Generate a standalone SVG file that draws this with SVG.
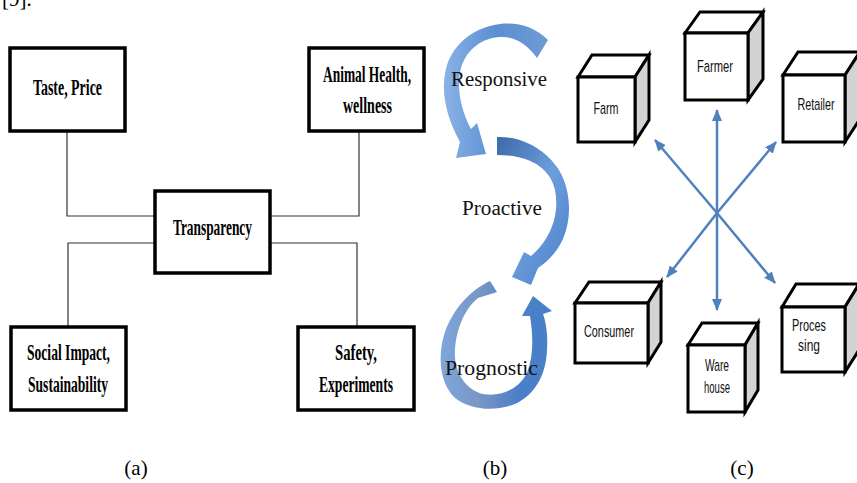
<svg xmlns="http://www.w3.org/2000/svg" width="857" height="483" viewBox="0 0 857 483">
<defs>
<style>
.box{fill:#fff;stroke:#000;stroke-width:3.5}
.conn{fill:none;stroke:#333;stroke-width:1.2}
.bt{font-family:"Liberation Serif",serif;font-weight:bold;font-size:24px;fill:#000}
.cap{font-family:"Liberation Serif",serif;font-size:21px;fill:#000}
.lbl{font-family:"Liberation Serif",serif;font-size:20px;fill:#111}
.cf{fill:#fff;stroke:#000;stroke-width:3;stroke-linejoin:miter}
.cs{fill:#d3d3d3;stroke:#000;stroke-width:3;stroke-linejoin:miter}
.ct{font-family:"Liberation Sans",sans-serif;font-size:17px;fill:#111}
.ar{stroke:#4f81bd;stroke-width:2.5;fill:none}
</style>
<linearGradient id="g1" x1="0" y1="0" x2="1" y2="0">
<stop offset="0" stop-color="#8ab2e6"/><stop offset="0.5" stop-color="#5a8fd2"/><stop offset="1" stop-color="#6f9bd4"/>
</linearGradient>
<linearGradient id="g2" x1="0" y1="0" x2="1" y2="1">
<stop offset="0" stop-color="#3b6aa8"/><stop offset="0.5" stop-color="#6d9ddc"/><stop offset="1" stop-color="#4a80c8"/>
</linearGradient>
<linearGradient id="g3" x1="0" y1="0" x2="1" y2="0">
<stop offset="0" stop-color="#7fa6dc"/><stop offset="0.35" stop-color="#7896c4"/><stop offset="0.7" stop-color="#4a80c8"/><stop offset="1" stop-color="#4a80c8"/>
</linearGradient>
<marker id="ah" markerWidth="12" markerHeight="10" refX="11" refY="5" orient="auto" markerUnits="userSpaceOnUse">
<path d="M0,0 L12,5 L0,10 z" fill="#4f81bd"/>
</marker>
</defs>
<rect width="857" height="483" fill="#fff"/>
<text x="2" y="6" class="cap" font-size="18">[9].</text>

<!-- Panel (a) -->
<g id="connectors-a">
<polyline class="conn" points="67,131 67,216 155,216"/>
<polyline class="conn" points="270,216 359,216 359,131"/>
<polyline class="conn" points="155,243 68,243 68,327"/>
<polyline class="conn" points="270,243 357,243 357,327"/>
</g>
<g id="taste">
<rect class="box" x="10" y="48" width="115" height="83"/>
<text class="bt" x="33" y="95" textLength="69" lengthAdjust="spacingAndGlyphs">Taste, Price</text>
</g>
<g id="animal">
<rect class="box" x="309" y="48" width="115" height="83"/>
<text class="bt" x="323" y="82" textLength="88" lengthAdjust="spacingAndGlyphs">Animal Health,</text>
<text class="bt" x="343" y="113" textLength="49" lengthAdjust="spacingAndGlyphs">wellness</text>
</g>
<g id="transparency">
<rect class="box" x="155" y="191" width="115" height="82"/>
<text class="bt" x="173" y="235" textLength="79" lengthAdjust="spacingAndGlyphs">Transparency</text>
</g>
<g id="social">
<rect class="box" x="11" y="327" width="115" height="83"/>
<text class="bt" x="27" y="360" textLength="83" lengthAdjust="spacingAndGlyphs">Social Impact,</text>
<text class="bt" x="28" y="392" textLength="80" lengthAdjust="spacingAndGlyphs">Sustainability</text>
</g>
<g id="safety">
<rect class="box" x="298" y="327" width="116" height="83"/>
<text class="bt" x="335" y="360" textLength="42" lengthAdjust="spacingAndGlyphs">Safety,</text>
<text class="bt" x="319" y="392" textLength="74" lengthAdjust="spacingAndGlyphs">Experiments</text>
</g>
<text class="cap" x="136" y="475" text-anchor="middle">(a)</text>

<!-- Panel (b) -->
<g id="responsive">
<path fill="url(#g1)" d="M548,40 C535,27 518,22 500,24 C475,27 455,42 447,65 C440,88 445,115 460,142 L456,158 L486,154 L477,123 L471,129 C461,110 456,88 461,68 C467,48 483,38 500,37 C515,36 528,45 537,58 Z"/>
<text class="lbl" x="451" y="86" textLength="96" lengthAdjust="spacingAndGlyphs">Responsive</text>
</g>
<g id="proactive">
<path fill="url(#g2)" d="M497,137 C520,136 545,148 559,170 C572,192 572,222 561,243 C555,254 547,262 538,268 L531,285 L512,277 L524,252 L531,256 C550,240 560,215 555,190 C550,168 530,155 497,155 Z"/>
<text class="lbl" x="462" y="215" textLength="80" lengthAdjust="spacingAndGlyphs">Proactive</text>
</g>
<g id="prognostic">
<path fill="url(#g3)" d="M490,281 C470,290 452,310 444,335 C437,360 441,385 455,398 C470,410 495,412 515,404 C535,395 546,375 547,350 C548,335 546,322 543,314 L552,311 L533,296 L522,316 L530,316 C533,335 534,355 527,373 C518,390 500,397 483,394 C467,390 457,376 455,358 C454,335 463,310 478,298 L497,292 Z"/>
<text class="lbl" x="445" y="375" textLength="93" lengthAdjust="spacingAndGlyphs">Prognostic</text>
</g>
<text class="cap" x="495" y="475" text-anchor="middle">(b)</text>

<!-- Panel (c) -->
<g id="connectors-c">
<line class="ar" x1="717" y1="213" x2="655" y2="140" marker-end="url(#ah)"/>
<line class="ar" x1="717" y1="213" x2="717" y2="110" marker-end="url(#ah)"/>
<line class="ar" x1="717" y1="213" x2="776" y2="142" marker-end="url(#ah)"/>
<line class="ar" x1="717" y1="213" x2="667" y2="277" marker-end="url(#ah)"/>
<line class="ar" x1="717" y1="213" x2="717" y2="310" marker-end="url(#ah)"/>
<line class="ar" x1="717" y1="213" x2="775" y2="283" marker-end="url(#ah)"/>
</g>
<g id="farm">
<polygon class="cf" points="578,77 592,55 649,55 635,77"/>
<polygon class="cs" points="635,77 649,55 649,120 635,142"/>
<rect class="cf" x="578" y="77" width="57" height="65"/>
<text class="ct" x="606" y="114" text-anchor="middle" textLength="25" lengthAdjust="spacingAndGlyphs">Farm</text>
</g>
<g id="farmer">
<polygon class="cf" points="685,33 700,12 763,12 748,33"/>
<polygon class="cs" points="748,33 763,12 763,79 748,100"/>
<rect class="cf" x="685" y="33" width="63" height="67"/>
<text class="ct" x="715" y="72" text-anchor="middle" textLength="36" lengthAdjust="spacingAndGlyphs">Farmer</text>
</g>
<g id="retailer">
<polygon class="cf" points="783,75 798,52 860,52 845,75"/>
<polygon class="cs" points="845,75 860,52 860,119 845,142"/>
<rect class="cf" x="783" y="75" width="62" height="67"/>
<text class="ct" x="816" y="110" text-anchor="middle" textLength="37" lengthAdjust="spacingAndGlyphs">Retailer</text>
</g>
<g id="consumer">
<polygon class="cf" points="575,303 589,282 661,282 648,303"/>
<polygon class="cs" points="648,303 661,282 661,342 648,363"/>
<rect class="cf" x="575" y="303" width="73" height="60"/>
<text class="ct" x="609" y="337" text-anchor="middle" textLength="50" lengthAdjust="spacingAndGlyphs">Consumer</text>
</g>
<g id="warehouse">
<polygon class="cf" points="688,345 702,323 758,323 745,345"/>
<polygon class="cs" points="745,345 758,323 758,390 745,412"/>
<rect class="cf" x="688" y="345" width="57" height="67"/>
<text class="ct" x="717" y="371" text-anchor="middle" textLength="24" lengthAdjust="spacingAndGlyphs">Ware</text>
<text class="ct" x="717" y="393" text-anchor="middle" textLength="26" lengthAdjust="spacingAndGlyphs">house</text>
</g>
<g id="processing">
<polygon class="cf" points="782,307 796,284 859,284 845,307"/>
<polygon class="cs" points="845,307 859,284 859,350 845,372"/>
<rect class="cf" x="782" y="307" width="63" height="65"/>
<text class="ct" x="809" y="331" text-anchor="middle" textLength="34" lengthAdjust="spacingAndGlyphs">Proces</text>
<text class="ct" x="809" y="351" text-anchor="middle" textLength="22" lengthAdjust="spacingAndGlyphs">sing</text>
</g>
<text class="cap" x="742" y="475" text-anchor="middle">(c)</text>
</svg>
